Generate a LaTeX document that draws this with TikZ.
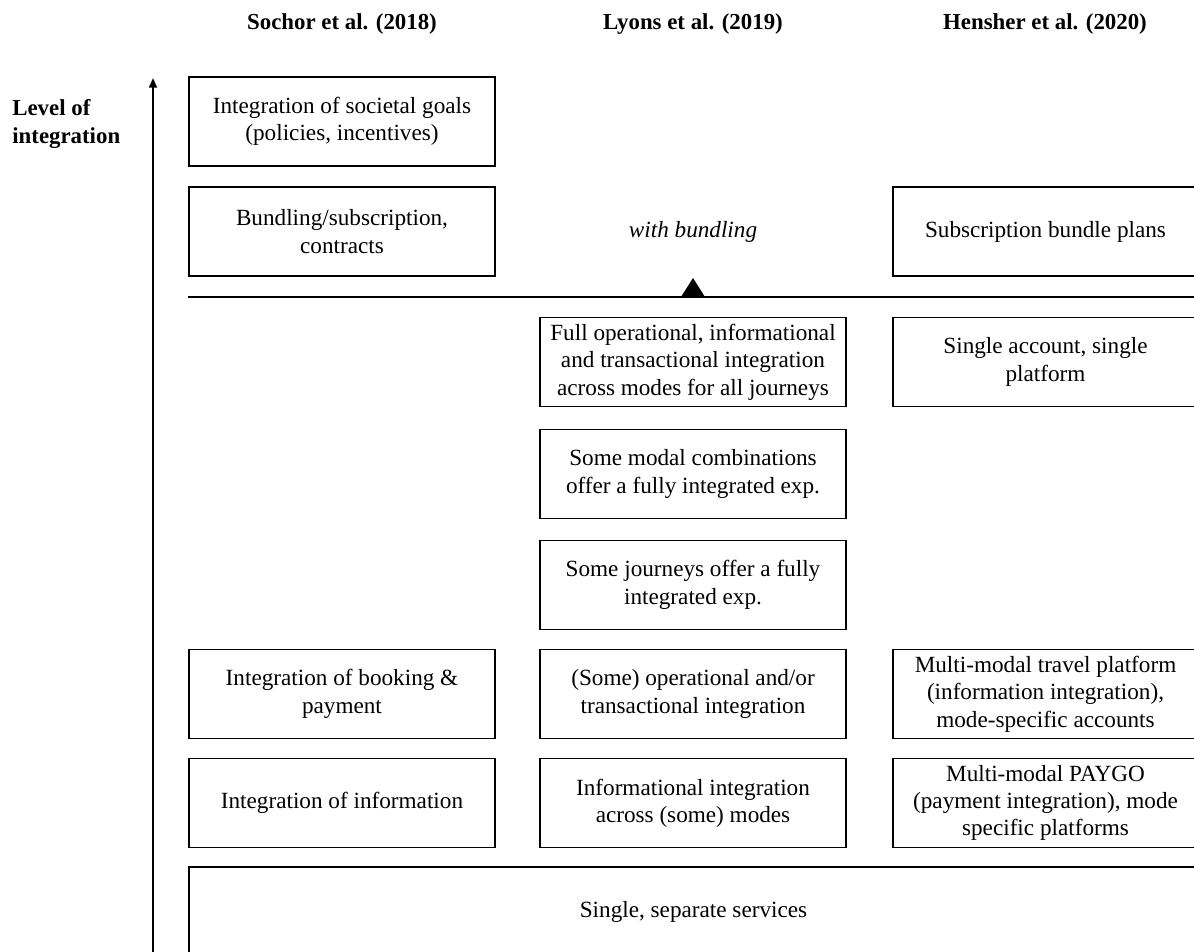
\documentclass[tikz,border=0pt]{standalone}
\usepackage{fontspec}
\setmainfont{Liberation Serif}
\usetikzlibrary{arrows.meta}
\begin{document}
\begin{tikzpicture}[x=0.02cm, y=-0.02cm,
  font=\fontsize{13.2}{15.6}\selectfont,
  box/.style={draw, line width=1.1pt, align=center, inner sep=0pt,
    minimum width=6.12cm, minimum height=1.78cm},
  head/.style={font=\fontsize{13}{15.6}\selectfont\bfseries}]
  \useasboundingbox (0,0) rectangle (1194,951);
  \clip (0,0) rectangle (1194,951);
  % column heads
  \node[head] (sochor) at (342,24) {Sochor et al. (2018)};
  \node[head] (lyons) at (693,24) {Lyons et al. (2019)};
  \node[head] (hensher) at (1045,24) {Hensher et al. (2020)};
  \node[head, anchor=west, align=left, inner sep=0pt] (level) at (12,124) {Level of\\integration};
  % axis
  \coordinate (axbot) at (153,960);
  \coordinate (axtop) at (153,78);
  \draw[line width=1.1pt, -{Triangle[length=5.5pt, width=4.5pt]}] (axbot) -- (axtop);
  % upper levels
  \node[box] (goals) at (342,121.5) {Integration of societal goals\\(policies, incentives)};
  \node[box] (bundle) at (342,231.5) {Bundling/subscription,\\contracts};
  \node (withb) at (693,231.5) {\itshape with bundling};
  \node[box] (subscr) at (1045.5,231.5) {Subscription bundle plans};
  % bundling threshold
  \coordinate (divl) at (188,297);
  \coordinate (divr) at (1200,297);
  \draw[line width=1.1pt] (divl) -- (divr);
  \fill (681,297) -- (693,278) -- (705,297) -- cycle;
  % lower levels
  \node[box] (fullint) at (693,362) {Full operational, informational\\and transactional integration\\across modes for all journeys};
  \node[box] (single) at (1045.5,362) {Single account, single\\platform};
  \node[box] (modal) at (693,474) {Some modal combinations\\offer a fully integrated exp.};
  \node[box] (journeys) at (693,585) {Some journeys offer a fully\\integrated exp.};
  \node[box] (booking) at (342,694) {Integration of booking \&\\payment};
  \node[box] (someop) at (693,694) {(Some) operational and/or\\transactional integration};
  \node[box] (travel) at (1045.5,694) {Multi-modal travel platform\\(information integration),\\mode-specific accounts};
  \node[box] (info) at (342,803) {Integration of information};
  \node[box] (infoint) at (693,803) {Informational integration\\across (some) modes};
  \node[box] (paygo) at (1045.5,803) {Multi-modal PAYGO\\(payment integration), mode\\specific platforms};
  \node[box, minimum width=20.2cm] (separate) at (693.5,911.5) {Single, separate services};
\end{tikzpicture}
\end{document}
